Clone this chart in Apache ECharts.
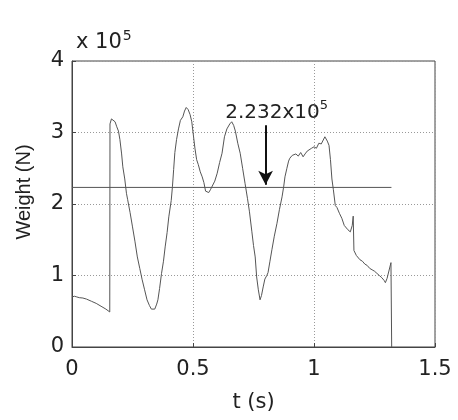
<!DOCTYPE html>
<html>
<head>
<meta charset="utf-8">
<script src="https://cdn.jsdelivr.net/npm/echarts@6/dist/echarts.min.js"></script>
<style>
  html, body { margin: 0; padding: 0; background: #fff; }
  #box { width: 458px; height: 420px; }
</style>
</head>
<body>
<div id="box"></div>
<script>
// weight signal, t in s, weight in 1e5 N
var weight = [
  [0, 0.70], [0.01, 0.71], [0.02, 0.70], [0.03, 0.69], [0.045, 0.685], [0.06, 0.67],
  [0.08, 0.64], [0.10, 0.61], [0.12, 0.57], [0.14, 0.53], [0.156, 0.49],
  [0.157, 3.12], [0.163, 3.19], [0.17, 3.17], [0.178, 3.15], [0.185, 3.08], [0.192, 3.02],
  [0.198, 2.90], [0.205, 2.70], [0.21, 2.52], [0.218, 2.35], [0.225, 2.15], [0.23, 2.06],
  [0.24, 1.88], [0.25, 1.68], [0.26, 1.48], [0.27, 1.26], [0.28, 1.10], [0.29, 0.94],
  [0.30, 0.80], [0.31, 0.66], [0.32, 0.58], [0.328, 0.53], [0.335, 0.55], [0.342, 0.53],
  [0.35, 0.60], [0.355, 0.66], [0.362, 0.82], [0.37, 1.03], [0.378, 1.20], [0.385, 1.40],
  [0.393, 1.60], [0.40, 1.82], [0.41, 2.05], [0.415, 2.24], [0.42, 2.48], [0.425, 2.72],
  [0.432, 2.90], [0.44, 3.05], [0.448, 3.17], [0.458, 3.22], [0.465, 3.30], [0.472, 3.35],
  [0.48, 3.32], [0.488, 3.25], [0.495, 3.15], [0.502, 2.95], [0.508, 2.78], [0.515, 2.62],
  [0.522, 2.55], [0.53, 2.45], [0.538, 2.38], [0.545, 2.30], [0.552, 2.18], [0.558, 2.20],
  [0.565, 2.16], [0.572, 2.20], [0.58, 2.22], [0.59, 2.32], [0.60, 2.43], [0.61, 2.58],
  [0.62, 2.71], [0.63, 2.94], [0.64, 3.05], [0.652, 3.12], [0.66, 3.15], [0.668, 3.10],
  [0.675, 3.02], [0.685, 2.85], [0.695, 2.71], [0.705, 2.50], [0.715, 2.29], [0.725, 2.08],
  [0.733, 1.90], [0.743, 1.62], [0.75, 1.42], [0.757, 1.26], [0.763, 0.98], [0.77, 0.80],
  [0.777, 0.66], [0.783, 0.72], [0.79, 0.84], [0.797, 0.95], [0.805, 1.0], [0.81, 1.04],
  [0.818, 1.20], [0.826, 1.36], [0.836, 1.55], [0.847, 1.73], [0.857, 1.92], [0.868, 2.10],
  [0.875, 2.25], [0.88, 2.38], [0.888, 2.50], [0.895, 2.60], [0.90, 2.64], [0.91, 2.68],
  [0.918, 2.66], [0.925, 2.70], [0.935, 2.67], [0.945, 2.72], [0.955, 2.66], [0.963, 2.70],
  [0.972, 2.74], [0.98, 2.72], [0.99, 2.78], [1.0, 2.80], [1.01, 2.78], [1.02, 2.85],
  [1.03, 2.84], [1.045, 2.94], [1.055, 2.88], [1.062, 2.82], [1.068, 2.62], [1.074, 2.35],
  [1.08, 2.20], [1.088, 1.98], [1.095, 1.95], [1.105, 1.87], [1.115, 1.80], [1.125, 1.70],
  [1.14, 1.64], [1.15, 1.61], [1.158, 1.70], [1.162, 1.83], [1.165, 1.35], [1.175, 1.28],
  [1.19, 1.22], [1.2, 1.20], [1.21, 1.16], [1.22, 1.14], [1.23, 1.10], [1.24, 1.08],
  [1.25, 1.06], [1.26, 1.03], [1.27, 1.00], [1.28, 0.97], [1.29, 0.93], [1.295, 0.90],
  [1.302, 0.96], [1.31, 0.98], [1.318, 1.18], [1.32, 1.20], [1.321, 0]
];
// mean level line
var meanLevel = 2.232;
var meanSpan = [0, 1.32];
// arrow pointing at the mean line
var arrowT = 0.80;
var arrowFrom = 3.10;
var arrowTo = 2.27;
var xTicks = [0, 0.5, 1, 1.5];
var yTicks = [0, 1, 2, 3, 4];

var font = '"DejaVu Sans", Arial, sans-serif';
var fontNarrow = 'Arial, "Liberation Sans", sans-serif';
var chart = echarts.init(document.getElementById('box'));

var option = {
  animation: false,
  backgroundColor: '#fff',
  title: {
    text: 'x 10{s|5}',
    left: 71,
    top: 24,
    textStyle: {
      fontFamily: font, fontSize: 21, fontWeight: 'normal', color: '#222',
      rich: { s: { fontFamily: font, fontSize: 14, color: '#222', padding: [0, 0, 14, 1] } }
    }
  },
  grid: {
    left: 72, right: 23, top: 61, bottom: 73,
    show: true, borderColor: '#444', borderWidth: 1, backgroundColor: 'transparent'
  },
  xAxis: {
    type: 'value', min: 0, max: 1.5, interval: 0.5,
    name: 't (s)', nameLocation: 'middle', nameGap: 45,
    nameTextStyle: { fontFamily: font, fontSize: 21, color: '#222' },
    axisLine: { show: true, lineStyle: { color: '#444' } },
    axisTick: { show: true, inside: true, length: 4, lineStyle: { color: '#444' } },
    axisLabel: {
      margin: 12, fontFamily: font, fontSize: 21, color: '#222',
      formatter: function (v) { return xTicks.indexOf(v) >= 0 ? String(v) : ''; }
    },
    splitLine: { show: true, lineStyle: { color: '#999', type: [1, 2], width: 1 } }
  },
  yAxis: {
    type: 'value', min: 0, max: 4, interval: 1,
    name: 'Weight (N)', nameLocation: 'middle', nameGap: 38,
    nameTextStyle: { fontFamily: fontNarrow, fontSize: 20, color: '#222', padding: [0, 0, 0, 24] },
    axisLine: { show: true, lineStyle: { color: '#444' } },
    axisTick: { show: true, inside: true, length: 4, lineStyle: { color: '#444' } },
    axisLabel: {
      margin: 8, fontFamily: font, fontSize: 21, color: '#222',
      formatter: function (v) { return yTicks.indexOf(v) >= 0 ? String(v) : ''; }
    },
    splitLine: { show: true, lineStyle: { color: '#999', type: [1, 2], width: 1 } }
  },
  series: [
    {
      name: 'weight',
      type: 'line',
      data: weight,
      showSymbol: false,
      lineStyle: { color: '#555', width: 1 }
    },
    {
      name: 'mean',
      type: 'line',
      data: meanSpan.map(function (t) { return [t, meanLevel]; }),
      showSymbol: false,
      lineStyle: { color: '#555', width: 1 },
      markLine: {
        silent: true,
        symbol: ['none', 'arrow'],
        symbolSize: [11, 14],
        lineStyle: { color: '#111', width: 2, type: 'solid' },
        label: {
          show: true, position: 'start', distance: 4,
          formatter: '2.232x10{s|5}',
          fontFamily: font, fontSize: 20, color: '#222', offset: [11, 4],
          rich: { s: { fontFamily: font, fontSize: 13, color: '#222', padding: [0, 0, 13, 0] } }
        },
        data: [[{ coord: [arrowT, arrowFrom] }, { coord: [arrowT, arrowTo] }]]
      }
    }
  ]
};
chart.setOption(option);
</script>
</body>
</html>
